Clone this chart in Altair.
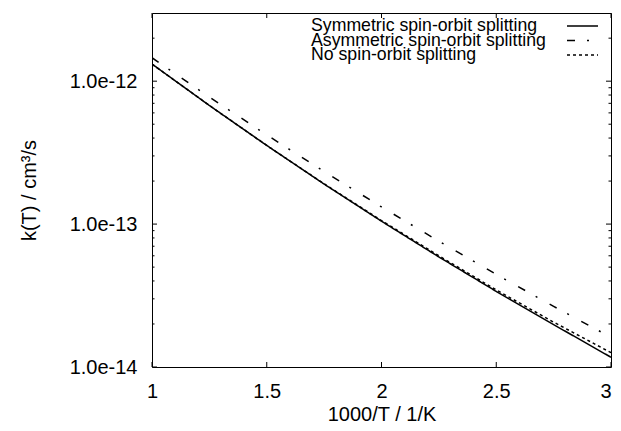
import altair as alt
import pandas as pd

# ---- data ----
x_vals = [1.0, 1.25, 1.5, 1.75, 2.0, 2.25, 2.5, 2.75, 3.0]
sym = [1.318e-12, 6.76e-13, 3.55e-13, 1.905e-13, 1.047e-13, 5.89e-14, 3.38e-14, 1.98e-14, 1.17e-14]
asym = [1.459e-12, 7.74e-13, 4.207e-13, 2.333e-13, 1.318e-13, 7.59e-14, 4.446e-14, 2.655e-14, 1.614e-14]
noso = [1.318e-12, 6.76e-13, 3.55e-13, 1.914e-13, 1.059e-13, 6.0e-14, 3.46e-14, 2.06e-14, 1.26e-14]
series_names = ["Symmetric spin-orbit splitting",
                "Asymmetric spin-orbit splitting",
                "No spin-orbit splitting"]
x_ticks = [1, 1.5, 2, 2.5, 3]
y_major = [1e-14, 1e-13, 1e-12]
y_minor = [k * 10.0 ** e for e in (-14, -13) for k in range(2, 10)] + [2e-12]
x_domain = [1, 3]
y_domain = [1e-14, 3e-12]

rows = []
for name, vals in zip(series_names, [sym, asym, noso]):
    for xv, yv in zip(x_vals, vals):
        rows.append({"x": xv, "k": yv, "series": name})
df = pd.DataFrame(rows)
xt_df = pd.DataFrame({"x": x_ticks})
ymaj_df = pd.DataFrame({"k": y_major})
ymin_df = pd.DataFrame({"k": y_minor})
leg_df = pd.DataFrame({"series": series_names, "row": list(range(len(series_names)))})

FONT = "Liberation Sans"
AFS = 20     # axis text size
LFS = 17.7   # legend text size
W, H = 459, 354
MAJ, MIN = 5, 2.5

xscale = alt.Scale(domain=x_domain, nice=False, zero=False)
yscale = alt.Scale(type="log", domain=y_domain, nice=False)
dash_scale = alt.Scale(domain=series_names, range=[[1, 0], [8, 12, 2, 14], [3, 3]])

main = alt.Chart(df).mark_line(color="black", strokeWidth=1.5, clip=True).encode(
    x=alt.X("x:Q", scale=xscale, axis=alt.Axis(
        orient="bottom", values=x_ticks, format="~g", ticks=False, domain=False,
        grid=False, labelFont=FONT, labelFontSize=AFS, labelColor="black",
        labelAlign={"condition": {"test": "datum.value >= 3", "value": "right"},
                    "value": "center"},
        labelPadding=14, labelFlush=False, title="1000/T / 1/K",
        titleFont=FONT, titleFontSize=AFS, titleFontWeight="normal",
        titleColor="black", titlePadding=3)),
    y=alt.Y("k:Q", scale=yscale, axis=alt.Axis(
        orient="left", values=y_major, format=".1e", ticks=False, domain=False,
        grid=False, labelFont=FONT, labelFontSize=AFS, labelColor="black",
        labelPadding=15, labelOverlap=False, labelFlush=False,
        title="k(T) / cm³/s", titleFont=FONT, titleFontSize=AFS,
        titleFontWeight="normal", titleColor="black", titlePadding=30)),
    strokeDash=alt.StrokeDash("series:N", scale=dash_scale, legend=None),
    detail="series:N",
)


def xtick(y0, y1):
    return alt.Chart(xt_df).mark_rule(color="black", strokeWidth=1).encode(
        x=alt.X("x:Q", scale=xscale, axis=None),
        y=alt.value(y0), y2=alt.value(y1))


def ytick(data, x0, x1):
    return alt.Chart(data).mark_rule(color="black", strokeWidth=1).encode(
        y=alt.Y("k:Q", scale=yscale, axis=None),
        x=alt.value(x0), x2=alt.value(x1))


ticks = [
    xtick(H - MAJ, H), xtick(0, MAJ),
    ytick(ymaj_df, 0, MAJ), ytick(ymaj_df, W - MAJ, W),
    ytick(ymin_df, 0, MIN), ytick(ymin_df, W - MIN, W),
]

plot = alt.layer(main, *ticks).resolve_axis(x="independent", y="independent")

# key (legend) in the top-right corner, rows placed by a linear scale
leg_y = alt.Y("row:Q", axis=None,
              scale=alt.Scale(domain=[0, len(series_names) - 1], range=[13, 42],
                              nice=False, zero=False))
leg_text = alt.Chart(leg_df).mark_text(
    align="left", baseline="middle", font=FONT, fontSize=LFS, color="black"
).encode(x=alt.value(159), y=leg_y, text="series:N")
leg_line = alt.Chart(leg_df).mark_rule(color="black", strokeWidth=1.5).encode(
    x=alt.value(415), x2=alt.value(446), y=leg_y,
    strokeDash=alt.StrokeDash("series:N", scale=dash_scale, legend=None),
)
key = alt.layer(leg_text, leg_line)

chart = alt.layer(plot, key).resolve_scale(y="independent").resolve_axis(
    y="independent"
).properties(
    width=W, height=H,
    autosize=alt.AutoSizeParams(type="none"),
    padding={"left": 144, "top": 5, "right": 2, "bottom": 56},
    background="white",
).configure_view(stroke="black", strokeWidth=1)

chart.save("out.html", embed_options={"renderer": "svg", "actions": False})
